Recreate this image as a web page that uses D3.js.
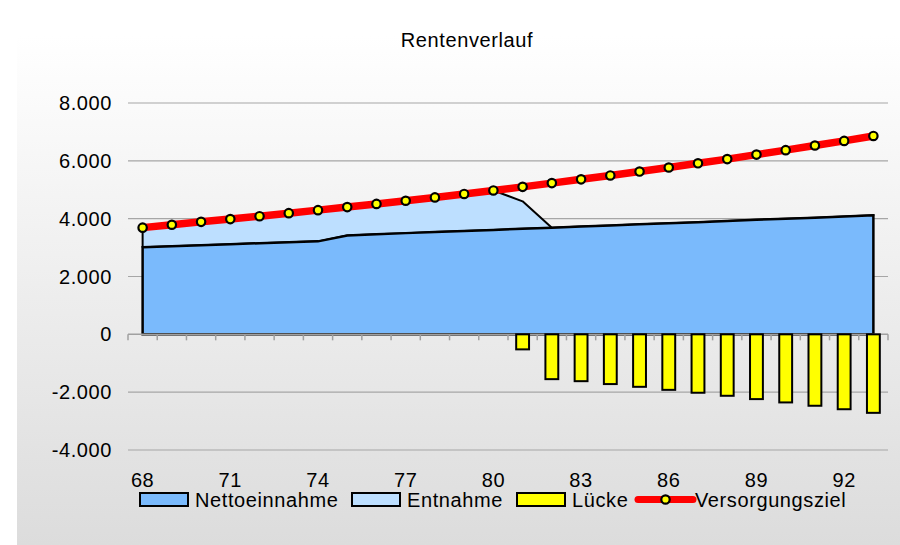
<!DOCTYPE html>
<html>
<head>
<meta charset="utf-8">
<script src="https://cdn.jsdelivr.net/npm/d3@7"></script>
<style>
    body { margin: 0; background: #fff; }
    svg text { font-family: "Liberation Sans", Arial, sans-serif; font-size: 20px; letter-spacing: 0.6px; fill: #000; }
</style>
</head>
<body>
<div id="chart"></div>
<script>
// ages 68 .. 93
var ages = d3.range(68, 94);
var tickAges = [68, 71, 74, 77, 80, 83, 86, 89, 92];
var yTicks = [-4000, -2000, 0, 2000, 4000, 6000, 8000];

var netto = [3010, 3045, 3080, 3115, 3150, 3185, 3215, 3420, 3460, 3500, 3535, 3575, 3610,
    3650, 3685, 3730, 3765, 3805, 3845, 3880, 3920, 3960, 4000, 4035, 4075, 4115];
var entnahme = [680, 745, 810, 870, 935, 1005, 1080, 980, 1050, 1120, 1200, 1280, 1365,
    950, 0, 0, 0, 0, 0, 0, 0, 0, 0, 0, 0, 0];
var luecke = [null, null, null, null, null, null, null, null, null, null, null, null, null,
    -520, -1550, -1620, -1720, -1815, -1920, -2020, -2125, -2240, -2355, -2470, -2590, -2715];
var ziel = [3690, 3790, 3890, 3985, 4085, 4190, 4295, 4400, 4510, 4620, 4735, 4855, 4975,
    5100, 5230, 5360, 5495, 5630, 5770, 5915, 6060, 6215, 6370, 6530, 6690, 6860];

var legendItems = ['Nettoeinnahme', 'Entnahme', 'Lücke', 'Versorgungsziel'];

var fullwidth = 900;
var fullheight = 545;
var margin = { top: 103, right: 12, bottom: 95, left: 128 };

var svg = d3.select('#chart')
    .append('svg')
    .attr('width', fullwidth)
    .attr('height', fullheight);

///////////// background
var defs = svg.append('defs');
var grad = defs.append('linearGradient')
    .attr('id', 'bg')
    .attr('x1', 0).attr('y1', 0).attr('x2', 0).attr('y2', 1);
grad.append('stop').attr('offset', '0%').attr('stop-color', '#ffffff');
grad.append('stop').attr('offset', '100%').attr('stop-color', '#dcdcdc');

svg.append('rect')
    .attr('x', 17).attr('y', 36)
    .attr('width', fullwidth - 17).attr('height', fullheight - 36)
    .attr('fill', 'url(#bg)');

svg.append('text')
    .attr('x', 467).attr('y', 47)
    .attr('text-anchor', 'middle')
    .text('Rentenverlauf');

///////////// scales
var x = d3.scaleBand()
    .domain(ages)
    .range([margin.left, fullwidth - margin.right]);
var cx = function(a) { return x(a) + x.bandwidth() / 2; };

var y = d3.scaleLinear()
    .domain([-4000, 8000])
    .range([450, margin.top]);

// gridlines + y labels
var grid = svg.append('g');
grid.selectAll('line')
    .data(yTicks.filter(function(d) { return d !== 0; }))
    .enter().append('line')
    .attr('x1', margin.left).attr('x2', fullwidth - margin.right)
    .attr('y1', function(d) { return y(d); })
    .attr('y2', function(d) { return y(d); })
    .attr('stroke', '#a6a6a6')
    .attr('stroke-width', 1.2);

// german thousands separator, plain hyphen for negatives
var fmt = function(d) {
    return d3.format(',')(Math.abs(d)).replace(/,/g, '.').replace(/^/, d < 0 ? '-' : '');
};
svg.append('g').selectAll('text')
    .data(yTicks)
    .enter().append('text')
    .attr('x', 112)
    .attr('y', function(d) { return y(d) + 7; })
    .attr('text-anchor', 'end')
    .text(fmt);

///////////// areas
var rows = ages.map(function(a, i) {
    return { age: a, netto: netto[i], entnahme: entnahme[i], luecke: luecke[i], ziel: ziel[i] };
});

var areaNetto = d3.area()
    .x(function(d) { return cx(d.age); })
    .y0(y(0))
    .y1(function(d) { return y(d.netto); });

var areaEntnahme = d3.area()
    .x(function(d) { return cx(d.age); })
    .y0(function(d) { return y(d.netto); })
    .y1(function(d) { return y(d.netto + d.entnahme); });

svg.append('path')
    .datum(rows)
    .attr('d', areaEntnahme)
    .attr('fill', '#bddfff')
    .attr('stroke', '#000')
    .attr('stroke-width', 2)
    .attr('stroke-linejoin', 'round');

svg.append('path')
    .datum(rows)
    .attr('d', areaNetto)
    .attr('fill', '#7abafc')
    .attr('stroke', '#000')
    .attr('stroke-width', 2.5);

///////////// x axis at zero
var axis = svg.append('g').attr('stroke', '#a0a0a0').attr('stroke-width', 1.5);
axis.append('line')
    .attr('x1', margin.left).attr('x2', fullwidth - margin.right)
    .attr('y1', y(0)).attr('y2', y(0));
axis.selectAll('line.tick')
    .data(d3.range(ages.length + 1))
    .enter().append('line')
    .attr('class', 'tick')
    .attr('x1', function(i) { return margin.left + i * x.step(); })
    .attr('x2', function(i) { return margin.left + i * x.step(); })
    .attr('y1', y(0)).attr('y2', y(0) + 6);

svg.append('g').selectAll('text')
    .data(tickAges)
    .enter().append('text')
    .attr('x', function(d) { return cx(d); })
    .attr('y', 487)
    .attr('text-anchor', 'middle')
    .text(function(d) { return d; });

///////////// bars
var bw = x.bandwidth() * 0.44;
svg.append('g').selectAll('rect')
    .data(rows.filter(function(d) { return d.luecke !== null; }))
    .enter().append('rect')
    .attr('x', function(d) { return cx(d.age) - bw / 2; })
    .attr('y', y(0))
    .attr('width', bw)
    .attr('height', function(d) { return y(d.luecke) - y(0); })
    .attr('fill', '#ffff00')
    .attr('stroke', '#000')
    .attr('stroke-width', 2);

///////////// target line
var line = d3.line()
    .x(function(d) { return cx(d.age); })
    .y(function(d) { return y(d.ziel); });

svg.append('path')
    .datum(rows)
    .attr('d', line)
    .attr('fill', 'none')
    .attr('stroke', '#ff0000')
    .attr('stroke-width', 7.5)
    .attr('stroke-linecap', 'round');

svg.append('g').selectAll('circle')
    .data(rows)
    .enter().append('circle')
    .attr('cx', function(d) { return cx(d.age); })
    .attr('cy', function(d) { return y(d.ziel); })
    .attr('r', 4.2)
    .attr('fill', '#ffff00')
    .attr('stroke', '#000')
    .attr('stroke-width', 2.2);

///////////// legend
var legend = svg.append('g');
var lx = [140, 352, 517, 638];
var fills = ['#7abafc', '#bddfff', '#ffff00'];
legendItems.forEach(function(name, i) {
    if (i < 3) {
        legend.append('rect')
            .attr('x', lx[i]).attr('y', 493)
            .attr('width', 48).attr('height', 13)
            .attr('fill', fills[i])
            .attr('stroke', '#000')
            .attr('stroke-width', 2);
        legend.append('text')
            .attr('x', lx[i] + 55).attr('y', 507)
            .text(name);
    } else {
        legend.append('line')
            .attr('x1', lx[i]).attr('x2', lx[i] + 55)
            .attr('y1', 499.5).attr('y2', 499.5)
            .attr('stroke', '#ff0000')
            .attr('stroke-width', 7)
            .attr('stroke-linecap', 'round');
        legend.append('circle')
            .attr('cx', lx[i] + 27.5).attr('cy', 499.5)
            .attr('r', 4.2)
            .attr('fill', '#ffff00')
            .attr('stroke', '#000')
            .attr('stroke-width', 2.2);
        legend.append('text')
            .attr('x', lx[i] + 57).attr('y', 507)
            .text(name);
    }
});
</script>
</body>
</html>
